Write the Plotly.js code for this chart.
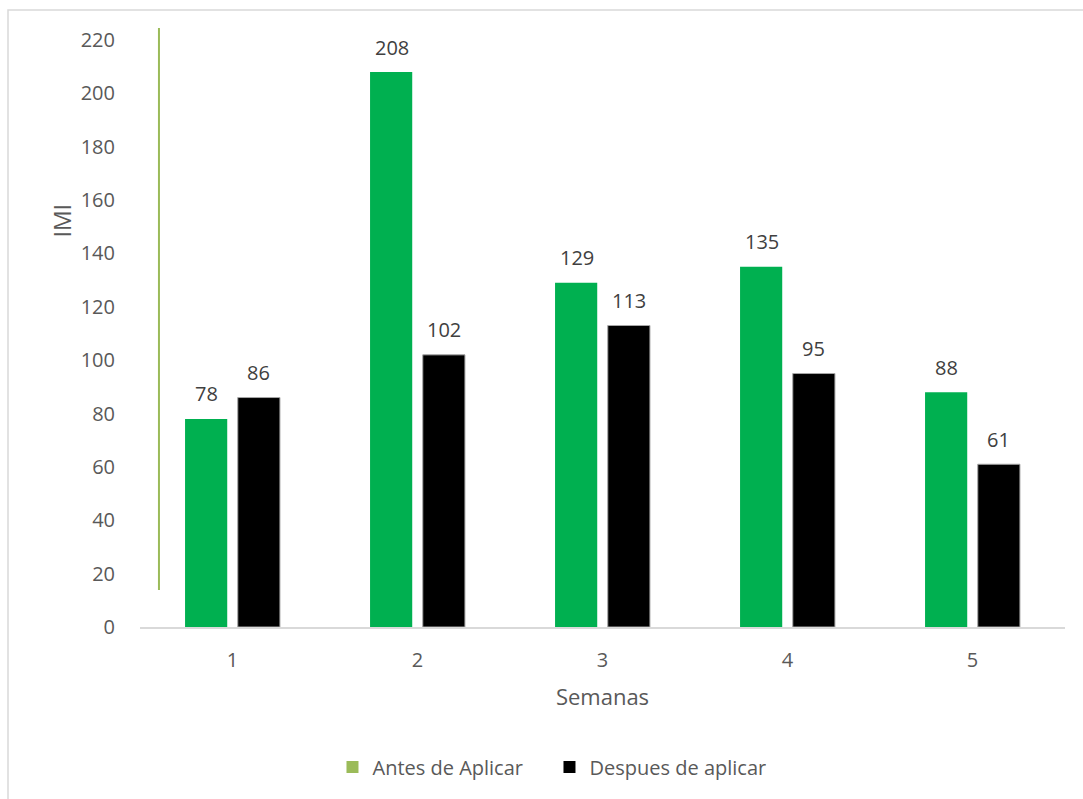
<!DOCTYPE html>
<html>
<head>
<meta charset="utf-8">
<script src="https://cdn.plot.ly/plotly-3.0.1.min.js"></script>
<style>html,body{margin:0;padding:0;background:#fff;}#chart{width:1083px;height:799px;}</style>
</head>
<body>
<div id="chart"></div>
<script>
const semanas = ['1', '2', '3', '4', '5'];
const antes = [78, 208, 129, 135, 88];
const despues = [86, 102, 113, 95, 61];
const serieAntes = 'Antes de Aplicar';
const serieDespues = 'Despues de aplicar';

const FONT = '"Open Sans", "Liberation Sans", sans-serif';
const TXT = '#595959';

const traces = [
  {type: 'bar', x: semanas, y: antes, name: serieAntes, showlegend: false, offsetgroup: 'a',
   marker: {color: '#00B050'}, hoverinfo: 'x+y'},
  {type: 'bar', x: semanas, y: despues, name: serieDespues, showlegend: false, offsetgroup: 'b',
   marker: {color: '#000000', line: {color: '#A6A6A6', width: 1}}, hoverinfo: 'x+y'},
  // legend entries
  {type: 'bar', x: [semanas[0]], y: [0], name: serieAntes, offsetgroup: 'a', marker: {color: '#9BBB59'}, hoverinfo: 'skip'},
  {type: 'bar', x: [semanas[0]], y: [0], name: serieDespues, offsetgroup: 'b', marker: {color: '#000000'}, hoverinfo: 'skip'}
];

const annotations = [];
semanas.forEach((s, i) => {
  annotations.push({x: i, y: antes[i], xref: 'x', yref: 'y', text: String(antes[i]),
    showarrow: false, xshift: -26, yshift: 25, yanchor: 'middle',
    font: {family: FONT, size: 20, color: '#404040'}});
  annotations.push({x: i, y: despues[i], xref: 'x', yref: 'y', text: String(despues[i]),
    showarrow: false, xshift: 26, yshift: 25, yanchor: 'middle',
    font: {family: FONT, size: 20, color: '#404040'}});
});
annotations.push({text: 'IMI', xref: 'paper', yref: 'paper', x: -0.084, y: 0.693,
  textangle: -90, showarrow: false, xanchor: 'center', yanchor: 'middle',
  font: {family: FONT, size: 23, color: TXT}});

const layout = {
  width: 1083, height: 799,
  margin: {l: 140, r: 18, t: 40, b: 172},
  paper_bgcolor: '#ffffff', plot_bgcolor: '#ffffff',
  font: {family: FONT, size: 20, color: TXT},
  barmode: 'group', bargap: 0.43, bargroupgap: 0.2,
  xaxis: {type: 'category', range: [-0.5, 4.5], showgrid: false, zeroline: false,
    showline: true, linecolor: '#D9D9D9', linewidth: 2,
    ticks: 'outside', ticklen: 14, tickcolor: 'rgba(0,0,0,0)',
    tickfont: {family: FONT, size: 20, color: TXT},
    title: {text: 'Semanas', standoff: 18, font: {family: FONT, size: 22, color: TXT}}},
  yaxis: {range: [0, 220], dtick: 20, showgrid: false, zeroline: false, showline: false,
    ticks: 'outside', ticklen: 20, tickcolor: 'rgba(0,0,0,0)',
    tickfont: {family: FONT, size: 20, color: TXT}},
  legend: {orientation: 'h', xref: 'container', yref: 'container', x: 0.307, xanchor: 'left',
    y: 0.04, yanchor: 'middle', font: {family: FONT, size: 20, color: TXT},
    itemwidth: 30, entrywidth: 172, tracegroupgap: 0, traceorder: 'normal'},
  shapes: [
    {type: 'line', xref: 'paper', yref: 'paper', x0: 0.0205, x1: 0.0205, y0: 0.063, y1: 1.0204,
     line: {color: '#9BBB59', width: 2}},
    {type: 'rect', xref: 'paper', yref: 'paper', x0: -0.1427, x1: 2, y0: -2, y1: 1.0511,
     line: {color: '#D9D9D9', width: 1.5}, fillcolor: 'rgba(0,0,0,0)', layer: 'below'}
  ],
  annotations: annotations
};

Plotly.newPlot('chart', traces, layout, {displayModeBar: false, staticPlot: true});
</script>
</body>
</html>
